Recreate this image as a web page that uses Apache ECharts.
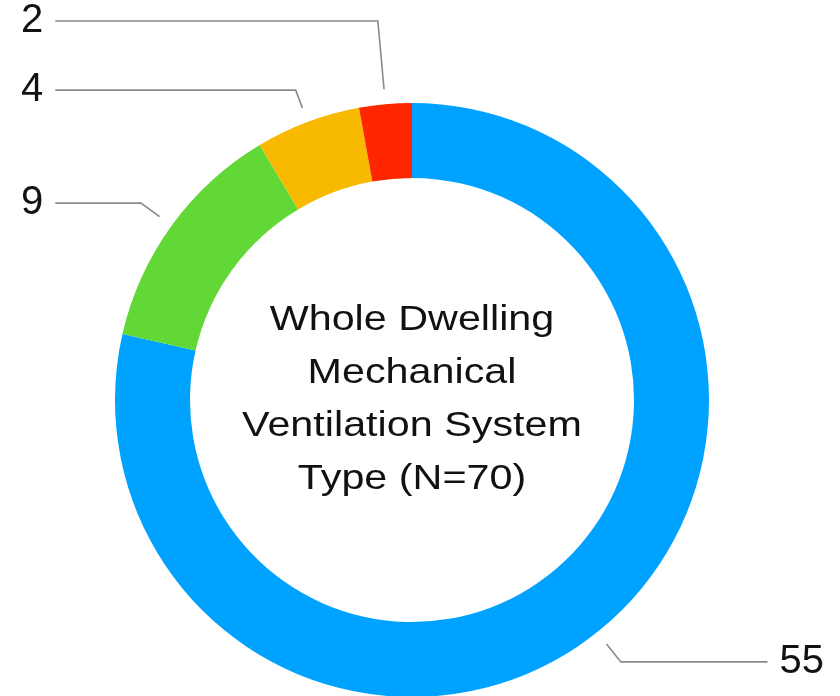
<!DOCTYPE html>
<html>
<head>
<meta charset="utf-8">
<title>Whole Dwelling Mechanical Ventilation System Type</title>
<script src="https://cdn.jsdelivr.net/npm/echarts@6/dist/echarts.min.js"></script>
<style>
  html, body { margin: 0; padding: 0; background: #ffffff; }
  #chart { width: 840px; height: 696px; }
</style>
</head>
<body>
<div id="chart"></div>
<script>
// Counts per system type, clockwise from 12 o'clock
const segmentValues = [55, 9, 4, 2];
// Centre caption, one entry per line
const captionLines = ['Whole Dwelling', 'Mechanical', 'Ventilation System', 'Type (N=70)'];

// Styling
const palette = ['#00A2FF', '#61D836', '#F8BA00', '#FF2600'];
const leaderLength = [23, 23, 19, 69];
const labelEdge = [16, 21, 21, 21];
const FONT = '"Liberation Sans", Arial, Helvetica, sans-serif';
const CENTER = [412, 400];
const OUTER_R = 297;
const INNER_R = 222;
const LABEL_R = 312;

const chart = echarts.init(document.getElementById('chart'), null, { renderer: 'canvas' });

const ringData = segmentValues.map((v, i) => ({
  value: v,
  itemStyle: { color: palette[i] }
}));

// Invisible ring slightly outside the donut, used only to place value labels and leader lines
const labelData = segmentValues.map((v, i) => ({
  value: v,
  itemStyle: { color: 'rgba(0,0,0,0)' },
  label: { edgeDistance: labelEdge[i] },
  labelLine: { length: leaderLength[i] }
}));

chart.setOption({
  backgroundColor: '#ffffff',
  animation: false,
  graphic: [{
    type: 'text',
    x: CENTER[0],
    y: CENTER[1],
    scaleX: 1.18,
    silent: true,
    style: {
      text: captionLines.join('\n'),
      x: 0,
      y: 0,
      align: 'center',
      verticalAlign: 'middle',
      fontFamily: FONT,
      fontSize: 35,
      lineHeight: 53,
      fill: '#111111'
    }
  }],
  series: [
    {
      type: 'pie',
      center: CENTER,
      radius: [INNER_R, OUTER_R],
      startAngle: 90,
      clockwise: true,
      silent: true,
      label: { show: false },
      labelLine: { show: false },
      emphasis: { disabled: true },
      data: ringData
    },
    {
      type: 'pie',
      center: CENTER,
      radius: [OUTER_R, LABEL_R],
      startAngle: 90,
      clockwise: true,
      silent: true,
      avoidLabelOverlap: true,
      emphasis: { disabled: true },
      label: {
        show: true,
        position: 'outside',
        alignTo: 'edge',
        edgeDistance: 21,
        distanceToLabelLine: 12,
        formatter: '{c}',
        fontFamily: FONT,
        fontSize: 40,
        lineHeight: 40,
        color: '#111111'
      },
      labelLine: {
        show: true,
        length: 23,
        length2: 10,
        lineStyle: { color: '#8a8a8a', width: 1.6 }
      },
      data: labelData
    }
  ]
});
</script>
</body>
</html>
